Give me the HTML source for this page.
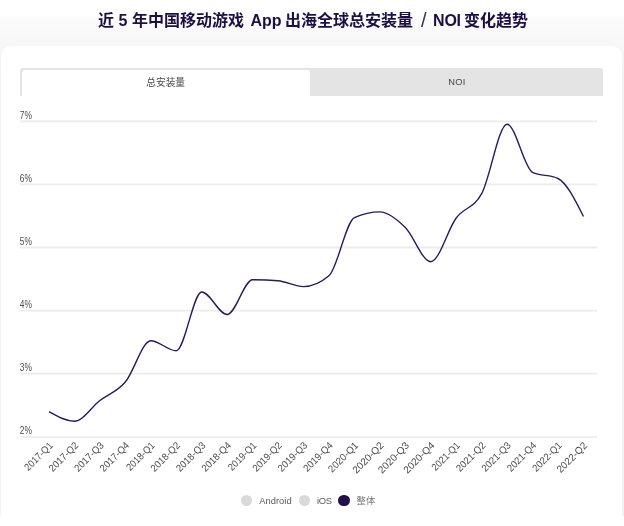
<!DOCTYPE html>
<html lang="zh">
<head>
<meta charset="utf-8">
<title>近 5 年中国移动游戏 App 出海全球总安装量 / NOI 变化趋势</title>
<style>
html,body{margin:0;padding:0}
body{width:624px;height:526px;position:relative;overflow:hidden;background:#fff;font-family:"Liberation Sans","Noto Sans CJK SC",sans-serif}
.bg{position:absolute;left:0;top:0;width:624px;height:516px;background:linear-gradient(to bottom,#fff 0,#fff 13px,#fbfbfb 20px,#f8f8f8 40px,#f6f6f6 50px,#f3f3f3 70px,#f3f3f3 100%)}
.card{position:absolute;left:1.2px;top:46.2px;width:621.2px;height:480px;background:#fff;border-radius:10px 10px 0 0}
h1{position:absolute;left:0;top:0;width:624px;height:40px;margin:0;will-change:transform;font-size:16px;font-weight:bold;color:#1c0f45;font-family:"Liberation Sans","Noto Sans CJK SC",sans-serif}
h1 span{position:absolute;top:9.7px;line-height:22px;white-space:nowrap}
.tabs{will-change:transform;position:absolute;left:20px;top:68px;width:583px;height:27.7px;font-size:9px;color:#4a4a4a;background:#e4e4e4;border-radius:3px 3px 0 0}
.tab{position:absolute;top:0;height:28px;box-sizing:border-box;text-align:center;line-height:28px}
.tab.on{left:1.5px;top:1.7px;width:288.4px;height:26px;background:#fff;border-radius:3px 3px 0 0;line-height:25px;color:#4a4a4a;font-size:9.7px;font-family:"Liberation Sans","Noto Sans CJK SC",sans-serif}
.tab.off{left:291px;width:292px;font-size:9.3px;letter-spacing:.35px;color:#444;line-height:29px}
svg.chart{position:absolute;left:0;top:0;will-change:transform}
svg.chart text{font-family:"Liberation Sans",sans-serif;font-size:10px;fill:#4d4d4d}
svg.chart .xl text{text-anchor:end;fill:#4a4a4a}
.legend{will-change:transform;position:absolute;left:0;top:490px;width:624px;height:22px;font-size:9.4px;color:#5a5a5a;font-family:"Liberation Sans","Noto Sans CJK SC",sans-serif}
.legend i{position:absolute;top:4.7px;width:11.3px;height:11.3px;border-radius:50%;background:#d9d9d9}
.legend span{position:absolute;top:0;line-height:21px;white-space:nowrap}
</style>
</head>
<body>
<div class="bg"></div>
<div class="card"></div>
<h1>
<span class="cjk" style="left:98px">近</span><span style="left:118.5px">5</span><span class="cjk" style="left:132px">年中国移动游戏</span><span style="left:250.5px">App</span><span class="cjk" style="left:285px">出海全球总安装量</span><span class="cjk" style="left:421px;top:9px;font-size:20px;font-weight:normal;color:#3d3260">/</span><span style="left:433.1px;letter-spacing:-0.25px">NOI</span><span class="cjk" style="left:464px">变化趋势</span>
</h1>
<div class="tabs"><div class="tab on">总安装量</div><div class="tab off">NOI</div></div>
<svg class="chart" width="624" height="526" viewBox="0 0 624 526">
<g stroke="#ececec" stroke-width="1.8"><line x1="20" x2="597" y1="121.30" y2="121.30"/><line x1="20" x2="597" y1="184.40" y2="184.40"/><line x1="20" x2="597" y1="247.50" y2="247.50"/><line x1="20" x2="597" y1="310.60" y2="310.60"/><line x1="20" x2="597" y1="373.70" y2="373.70"/><line x1="20" x2="597" y1="436.80" y2="436.80"/></g>
<g><text transform="translate(19.8 118.80) scale(0.84 1)">7%</text><text transform="translate(19.8 181.90) scale(0.84 1)">6%</text><text transform="translate(19.8 245.00) scale(0.84 1)">5%</text><text transform="translate(19.8 308.10) scale(0.84 1)">4%</text><text transform="translate(19.8 371.20) scale(0.84 1)">3%</text><text transform="translate(19.8 434.30) scale(0.84 1)">2%</text></g>
<g class="xl"><text transform="translate(53.50 446.1) rotate(-45) scale(0.915 1)">2017-Q1</text><text transform="translate(78.95 446.1) rotate(-45) scale(0.951 1)">2017-Q2</text><text transform="translate(104.40 446.1) rotate(-45) scale(0.951 1)">2017-Q3</text><text transform="translate(129.85 446.1) rotate(-45) scale(0.951 1)">2017-Q4</text><text transform="translate(155.30 446.1) rotate(-45) scale(0.915 1)">2018-Q1</text><text transform="translate(180.75 446.1) rotate(-45) scale(0.951 1)">2018-Q2</text><text transform="translate(206.20 446.1) rotate(-45) scale(0.951 1)">2018-Q3</text><text transform="translate(231.65 446.1) rotate(-45) scale(0.951 1)">2018-Q4</text><text transform="translate(257.10 446.1) rotate(-45) scale(0.915 1)">2019-Q1</text><text transform="translate(282.55 446.1) rotate(-45) scale(0.951 1)">2019-Q2</text><text transform="translate(308.00 446.1) rotate(-45) scale(0.951 1)">2019-Q3</text><text transform="translate(333.45 446.1) rotate(-45) scale(0.951 1)">2019-Q4</text><text transform="translate(358.90 446.1) rotate(-45) scale(0.977 1)">2020-Q1</text><text transform="translate(384.35 446.1) rotate(-45) scale(1.013 1)">2020-Q2</text><text transform="translate(409.80 446.1) rotate(-45) scale(1.013 1)">2020-Q3</text><text transform="translate(435.25 446.1) rotate(-45) scale(1.013 1)">2020-Q4</text><text transform="translate(460.70 446.1) rotate(-45) scale(0.915 1)">2021-Q1</text><text transform="translate(486.15 446.1) rotate(-45) scale(0.951 1)">2021-Q2</text><text transform="translate(511.60 446.1) rotate(-45) scale(0.951 1)">2021-Q3</text><text transform="translate(537.05 446.1) rotate(-45) scale(0.951 1)">2021-Q4</text><text transform="translate(562.50 446.1) rotate(-45) scale(0.951 1)">2022-Q1</text><text transform="translate(587.95 446.1) rotate(-45) scale(0.990 1)">2022-Q2</text></g>
<path d="M49.00 411.70C57.48 416.45 65.97 421.20 74.45 421.20C82.93 421.20 91.42 407.03 99.90 400.50C108.38 393.97 116.87 391.97 125.35 382.00C133.83 372.03 142.32 340.70 150.80 340.70C159.28 340.70 167.77 350.80 176.25 350.80C184.73 350.80 193.22 292.00 201.70 292.00C210.18 292.00 218.67 314.50 227.15 314.50C235.63 314.50 244.12 279.70 252.60 279.70C261.08 279.70 269.57 280.03 278.05 280.70C286.53 281.37 295.02 286.60 303.50 286.60C311.98 286.60 320.47 283.00 328.95 275.80C337.43 268.60 345.92 221.40 354.40 217.60C362.88 213.80 371.37 211.90 379.85 211.90C388.33 211.90 396.82 219.20 405.30 227.50C413.78 235.80 422.27 261.70 430.75 261.70C439.23 261.70 447.72 229.33 456.20 218.00C464.68 206.67 473.17 209.32 481.65 193.70C490.13 178.08 498.62 124.30 507.10 124.30C515.58 124.30 524.07 168.17 532.55 172.30C541.03 176.43 549.52 174.37 558.00 178.50C566.48 182.63 574.97 199.57 583.45 216.50" fill="none" stroke="#2b195e" stroke-width="1.4" stroke-linejoin="round" stroke-linecap="butt"/>
</svg>
<div class="legend"><i style="left:240.9px"></i><span style="left:259.3px">Android</span><i style="left:298.9px"></i><span style="left:317px;letter-spacing:-.35px">iOS</span><i style="left:338.3px;background:#22104c"></i><span style="left:356.5px;color:#777">整体</span></div>
</body>
</html>
